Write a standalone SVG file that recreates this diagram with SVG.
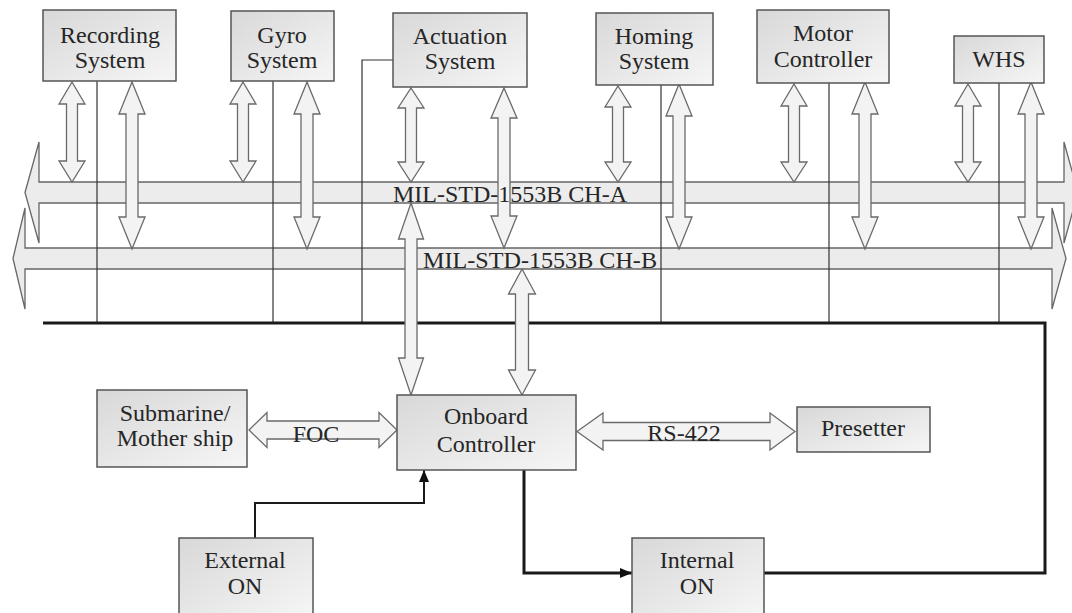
<svg xmlns="http://www.w3.org/2000/svg" width="1072" height="613" viewBox="0 0 1072 613">
  <defs>
    <linearGradient id="boxFill" x1="0" y1="0" x2="1" y2="1">
      <stop offset="0" stop-color="#d8d8d8"/>
      <stop offset="1" stop-color="#f6f6f6"/>
    </linearGradient>
    <marker id="headBlack" viewBox="0 0 12 10" refX="12" refY="5" markerWidth="12" markerHeight="10" markerUnits="userSpaceOnUse" orient="auto">
      <path d="M0 0 L12 5 L0 10 Z" fill="#111"/>
    </marker>
  </defs>
  <style>
    .box { fill: url(#boxFill); stroke: #555; stroke-width: 1.5; }
    .lbl { font-family: "Liberation Serif", "Times New Roman", serif; font-size: 24px; fill: #262626; text-anchor: middle; }
    .bus { fill: #ececec; stroke: #666; stroke-width: 1.3; }
    .blk { fill: #f3f3f3; stroke: #6a6a6a; stroke-width: 1.3; }
    .thin { fill: none; stroke: #333; stroke-width: 1.2; }
    .thick { fill: none; stroke: #1a1a1a; stroke-width: 3; }
    .sig { fill: none; stroke: #1a1a1a; stroke-width: 2; }
  </style>
  <rect width="1072" height="613" fill="#ffffff"/>

  <g id="connectors">
    <!-- data buses -->
    <path class="bus" d="M25 192.5 L39 142 L39 182 L1064 182 L1064 142 L1078 192.5 L1064 243 L1064 203 L39 203 L39 243 Z"/>
    <path class="bus" d="M13 258.5 L25 208 L25 248 L1052 248 L1052 208 L1066 258.5 L1052 309 L1052 269 L25 269 L25 309 Z"/>

    <!-- power-on lines from each unit -->
    <path class="thin" d="M97 81 V323"/>
    <path class="thin" d="M273 81 V323"/>
    <path class="thin" d="M393 60 H362 V323"/>
    <path class="thin" d="M661 85 V323"/>
    <path class="thin" d="M829 83 V323"/>
    <path class="thin" d="M999 83 V323"/>

    <!-- power-on loop -->
    <path class="thick" d="M43 323 H1045 V573 H764"/>
    <path class="thick" d="M524 470 V573 H632" marker-end="url(#headBlack)"/>
    <path class="sig" d="M255 538 V503 H424 V470" marker-end="url(#headBlack)"/>

    <!-- unit to bus links -->
    <path class="blk" d="M72 82 L85 104 L77.5 104 L77.5 161 L85 161 L72 182 L59 161 L66.5 161 L66.5 104 L59 104 Z"/>
    <path class="blk" d="M132 82 L145 114 L138 114 L138 217 L145 217 L132 249 L119 217 L126 217 L126 114 L119 114 Z"/>
    <path class="blk" d="M243 82 L256 104 L248.5 104 L248.5 161 L256 161 L243 182 L230 161 L237.5 161 L237.5 104 L230 104 Z"/>
    <path class="blk" d="M307 82 L320 114 L313 114 L313 217 L320 217 L307 249 L294 217 L301 217 L301 114 L294 114 Z"/>
    <path class="blk" d="M411 88 L424 108 L416.5 108 L416.5 162 L424 162 L411 182 L398 162 L405.5 162 L405.5 108 L398 108 Z"/>
    <path class="blk" d="M504 88 L517 118 L510 118 L510 216 L517 216 L504 248 L491 216 L498 216 L498 118 L491 118 Z"/>
    <path class="blk" d="M618 86 L631 107 L623.5 107 L623.5 162 L631 162 L618 182 L605 162 L612.5 162 L612.5 107 L605 107 Z"/>
    <path class="blk" d="M679 84 L692 116 L685 116 L685 217 L692 217 L679 249 L666 217 L673 217 L673 116 L666 116 Z"/>
    <path class="blk" d="M794 84 L807 106 L799.5 106 L799.5 162 L807 162 L794 182 L781 162 L788.5 162 L788.5 106 L781 106 Z"/>
    <path class="blk" d="M865 82 L878 114 L871 114 L871 217 L878 217 L865 249 L852 217 L859 217 L859 114 L852 114 Z"/>
    <path class="blk" d="M968 84 L981 106 L973.5 106 L973.5 162 L981 162 L968 182 L955 162 L962.5 162 L962.5 106 L955 106 Z"/>
    <path class="blk" d="M1031 82 L1044 114 L1037 114 L1037 217 L1044 217 L1031 249 L1018 217 L1025 217 L1025 114 L1018 114 Z"/>

    <!-- bus to onboard controller -->
    <path class="blk" d="M411 203 L423.5 239 L417 239 L417 358 L423.5 358 L411 395 L398.5 358 L405 358 L405 239 L398.5 239 Z"/>
    <path class="blk" d="M522 269 L535.5 294 L528.5 294 L528.5 370 L535.5 370 L522 395 L508.5 370 L515.5 370 L515.5 294 L508.5 294 Z"/>

    <!-- FOC and RS-422 links -->
    <path class="blk" d="M249 430 L267 412.5 L267 421 L379 421 L379 412.5 L397 430 L379 447.5 L379 439 L267 439 L267 447.5 Z"/>
    <path class="blk" d="M577 431.5 L603 413 L603 422.5 L770 422.5 L770 413 L795 431.5 L770 450 L770 440.5 L603 440.5 L603 450 Z"/>

    <text class="lbl" x="510" y="202" textLength="234" lengthAdjust="spacingAndGlyphs">MIL-STD-1553B CH-A</text>
    <text class="lbl" x="540" y="268" textLength="234" lengthAdjust="spacingAndGlyphs">MIL-STD-1553B CH-B</text>
    <text class="lbl" x="316" y="442">FOC</text>
    <text class="lbl" x="684" y="441">RS-422</text>
  </g>

  <g id="recording-system">
    <rect class="box" x="43" y="10" width="133" height="71"/>
    <text class="lbl" x="110" y="43">Recording</text>
    <text class="lbl" x="110" y="68">System</text>
  </g>
  <g id="gyro-system">
    <rect class="box" x="231" y="11" width="103" height="70"/>
    <text class="lbl" x="282" y="43">Gyro</text>
    <text class="lbl" x="282" y="68">System</text>
  </g>
  <g id="actuation-system">
    <rect class="box" x="393" y="13" width="134" height="74"/>
    <text class="lbl" x="460" y="44">Actuation</text>
    <text class="lbl" x="460" y="69">System</text>
  </g>
  <g id="homing-system">
    <rect class="box" x="596" y="13" width="117" height="72"/>
    <text class="lbl" x="654" y="44">Homing</text>
    <text class="lbl" x="654" y="69">System</text>
  </g>
  <g id="motor-controller">
    <rect class="box" x="757" y="10" width="132" height="73"/>
    <text class="lbl" x="823" y="41">Motor</text>
    <text class="lbl" x="823" y="67">Controller</text>
  </g>
  <g id="whs">
    <rect class="box" x="954" y="36" width="90" height="47"/>
    <text class="lbl" x="999" y="67">WHS</text>
  </g>
  <g id="submarine">
    <rect class="box" x="97" y="390" width="150" height="77"/>
    <text class="lbl" x="175" y="421">Submarine/</text>
    <text class="lbl" x="175" y="446">Mother ship</text>
  </g>
  <g id="onboard-controller">
    <rect class="box" x="397" y="395" width="179" height="75"/>
    <text class="lbl" x="486" y="424">Onboard</text>
    <text class="lbl" x="486" y="452">Controller</text>
  </g>
  <g id="presetter">
    <rect class="box" x="797" y="407" width="133" height="45"/>
    <text class="lbl" x="863" y="436">Presetter</text>
  </g>
  <g id="external-on">
    <rect class="box" x="179" y="538" width="134" height="80"/>
    <text class="lbl" x="245" y="568">External</text>
    <text class="lbl" x="245" y="594">ON</text>
  </g>
  <g id="internal-on">
    <rect class="box" x="632" y="538" width="132" height="80"/>
    <text class="lbl" x="697" y="568">Internal</text>
    <text class="lbl" x="697" y="594">ON</text>
  </g>
</svg>
